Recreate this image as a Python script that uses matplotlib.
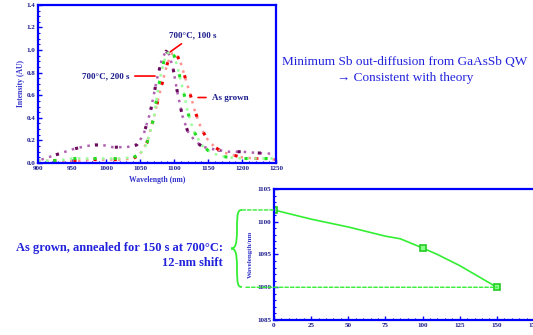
import matplotlib.pyplot as plt
from matplotlib.path import Path
from matplotlib.patches import PathPatch, ConnectionPatch
from matplotlib.transforms import blended_transform_factory, IdentityTransform

# PL spectra (top panel)
wl_grown = [900, 920, 940, 960, 980, 1000, 1020, 1040, 1050, 1060, 1070, 1080, 1090, 1097, 1103,
            1110, 1115, 1120, 1125, 1130, 1140, 1150, 1160, 1170, 1180, 1200, 1220, 1250]
int_grown = [0.02, 0.02, 0.02, 0.02, 0.03, 0.03, 0.03, 0.04, 0.08, 0.18, 0.40, 0.65, 0.88, 0.97, 0.97,
             0.88, 0.78, 0.68, 0.58, 0.47, 0.30, 0.20, 0.14, 0.10, 0.08, 0.05, 0.04, 0.03]
wl_100s = [900, 920, 940, 950, 970, 1000, 1020, 1040, 1050, 1060, 1065, 1070, 1075, 1080, 1085, 1090,
           1095, 1100, 1105, 1110, 1115, 1120, 1125, 1130, 1140, 1150, 1160, 1170, 1180, 1200, 1250]
int_100s = [0.02, 0.02, 0.03, 0.04, 0.04, 0.04, 0.04, 0.05, 0.08, 0.17, 0.28, 0.40, 0.60, 0.77, 0.90, 0.97,
            0.99, 0.95, 0.85, 0.72, 0.60, 0.45, 0.35, 0.27, 0.16, 0.11, 0.08, 0.06, 0.05, 0.04, 0.04]
wl_200s = [905, 910, 930, 950, 970, 985, 1000, 1010, 1030, 1045, 1055, 1065, 1075, 1082, 1088, 1092,
           1098, 1105, 1112, 1120, 1130, 1140, 1150, 1160, 1180, 1200, 1220, 1250]
int_200s = [0.03, 0.04, 0.08, 0.12, 0.15, 0.16, 0.155, 0.14, 0.14, 0.16, 0.25, 0.45, 0.75, 0.92, 0.99, 0.97,
            0.85, 0.62, 0.42, 0.28, 0.20, 0.15, 0.13, 0.12, 0.10, 0.10, 0.09, 0.08]

# peak wavelength vs anneal time (bottom panel)
anneal_t = [0, 25, 50, 75, 85, 100, 110, 125, 150]
peak_wl = [1101.8, 1100.4, 1099.2, 1097.8, 1097.4, 1096.0, 1095.0, 1093.3, 1090.0]
marker_t = [0, 100, 150]
marker_wl = [1101.8, 1096.0, 1090.0]

blue = '#0000ff'
navy = '#1a1a8c'
serif = 'Liberation Serif'

fig = plt.figure(figsize=(5.33, 3.35), dpi=100)


def style_axes(ax):
    for s in ax.spines.values():
        s.set_color(blue)
        s.set_linewidth(1.6)
    ax.minorticks_on()
    ax.tick_params(which='both', direction='in', color=blue, top=False, right=False)
    ax.tick_params(which='major', length=3, width=1, labelsize=5, labelcolor=navy, pad=2)
    ax.tick_params(which='minor', length=1.5, width=0.8)
    for lab in ax.get_xticklabels() + ax.get_yticklabels():
        lab.set_fontfamily(serif)
        lab.set_fontweight('bold')


# top panel
ax1 = fig.add_axes([0.0713, 0.5134, 0.447, 0.472])
ax1.plot(wl_200s, int_200s, color='#b060b0', lw=1.8, ls=(0, (1, 2.2)))
ax1.plot(wl_200s, int_200s, color='#6a0a5a', lw=2.2, ls=(1.6, (1, 5.6)))
ax1.plot(wl_grown, int_grown, color='#ff9090', lw=1.8, ls=(0, (1, 2.2)))
ax1.plot(wl_grown, int_grown, color='#ee0000', lw=2.2, ls=(1.6, (1, 5.6)))
ax1.plot(wl_100s, int_100s, color='#99ff99', lw=1.8, ls=(0, (1, 2.2)))
ax1.plot(wl_100s, int_100s, color='#22dd22', lw=2.2, ls=(1.6, (1, 5.6)))
ax1.set_xlim(900, 1250)
ax1.set_ylim(0, 1.4)
ax1.set_xticks(range(900, 1251, 50))
ax1.set_yticks([0.0, 0.2, 0.4, 0.6, 0.8, 1.0, 1.2, 1.4])
ax1.set_yticklabels(['0.0', '0.2', '0.4', '0.6', '0.8', '1.0', '1.2', '1.4'])
style_axes(ax1)
ax1.set_xlabel('Wavelength (nm)', fontsize=5.5, fontweight='bold', color='#3333cc',
               family=serif, labelpad=4)
ax1.set_ylabel('Intensity (AU)', fontsize=5.5, fontweight='bold', color='#3333cc',
               family=serif, labelpad=1)

lab_kw = dict(fontsize=6.5, fontweight='bold', color=navy, family=serif)
arr = dict(arrowstyle='-', color='red', lw=1.2)
ax1.annotate('700°C, 100 s', xy=(1091, 0.97), xytext=(1093, 1.13), ha='left', va='center',
             arrowprops=arr, **lab_kw)
ax1.annotate('700°C, 200 s', xy=(1076, 0.77), xytext=(1034, 0.77), ha='right', va='center',
             arrowprops=arr, **lab_kw)
ax1.annotate('As grown', xy=(1131, 0.58), xytext=(1155, 0.58), ha='left', va='center',
             arrowprops=arr, **lab_kw)

# bottom panel
ax2 = fig.add_axes([0.514, 0.0448, 0.488, 0.391])
ax2.plot(anneal_t, peak_wl, color='#33ee33', lw=1.2)
ax2.plot(marker_t, marker_wl, ls='none', marker='s', ms=4.5, mfc='#88ff88',
         mec='#22cc22', mew=1.2)
ax2.set_xlim(0, 175)
ax2.set_ylim(1085, 1105)
ax2.set_xticks(range(0, 176, 25))
ax2.set_yticks(range(1085, 1106, 5))
style_axes(ax2)
ax2.set_ylabel('Wavelength/nm', fontsize=5, fontweight='bold', color='#3333cc',
               family=serif, labelpad=3)

# dashed guide lines from brace ends to first and last points
pix_data = blended_transform_factory(IdentityTransform(), ax2.transData)
for px, t, w in [(242, marker_t[0], marker_wl[0]), (246, marker_t[-1], marker_wl[-1])]:
    fig.add_artist(ConnectionPatch(xyA=(px, w), coordsA=pix_data, xyB=(t, w),
                                   coordsB=ax2.transData, color='#33ee33', lw=1,
                                   ls=(0, (2.5, 1.5))))

# curly brace (figure pixels, from bottom)
x0, ymid, h = 237, 86.5, 38.5
verts = [(x0 + 5, ymid + h),
         (x0 + 1, ymid + h), (x0, ymid + h - 2), (x0, ymid + h / 2),
         (x0, ymid + 3), (x0 - 2, ymid), (x0 - 6, ymid),
         (x0 - 2, ymid), (x0, ymid - 3), (x0, ymid - h / 2),
         (x0, ymid - h + 2), (x0 + 1, ymid - h), (x0 + 5, ymid - h)]
verts = [(vx / 533, vy / 335) for vx, vy in verts]
codes = [Path.MOVETO, Path.CURVE4, Path.CURVE4, Path.CURVE4,
         Path.CURVE4, Path.CURVE4, Path.CURVE4,
         Path.CURVE4, Path.CURVE4, Path.CURVE4,
         Path.CURVE4, Path.CURVE4, Path.CURVE4]
fig.add_artist(PathPatch(Path(verts, codes), transform=fig.transFigure, fill=False,
                         ec='#33ee33', lw=1.3))

fig.text(223 / 533, 1 - 248 / 335, 'As grown, annealed for 150 s at 700°C:', ha='right',
         va='center', fontsize=9, fontweight='bold', color='#2222dd', family=serif)
fig.text(223 / 533, 1 - 263 / 335, '12-nm shift', ha='right', va='center', fontsize=9,
         fontweight='bold', color='#2222dd', family=serif)

fig.text(405 / 533, 1 - 62 / 335, 'Minimum Sb out-diffusion from GaAsSb QW', ha='center',
         va='center', fontsize=9.5, color='#2222dd', family=serif)
fig.text(405 / 533, 1 - 78 / 335, '→ Consistent with theory', ha='center', va='center',
         fontsize=9.5, color='#2222dd', family=[serif, 'DejaVu Sans'])

fig.savefig('out.png', dpi=100)
